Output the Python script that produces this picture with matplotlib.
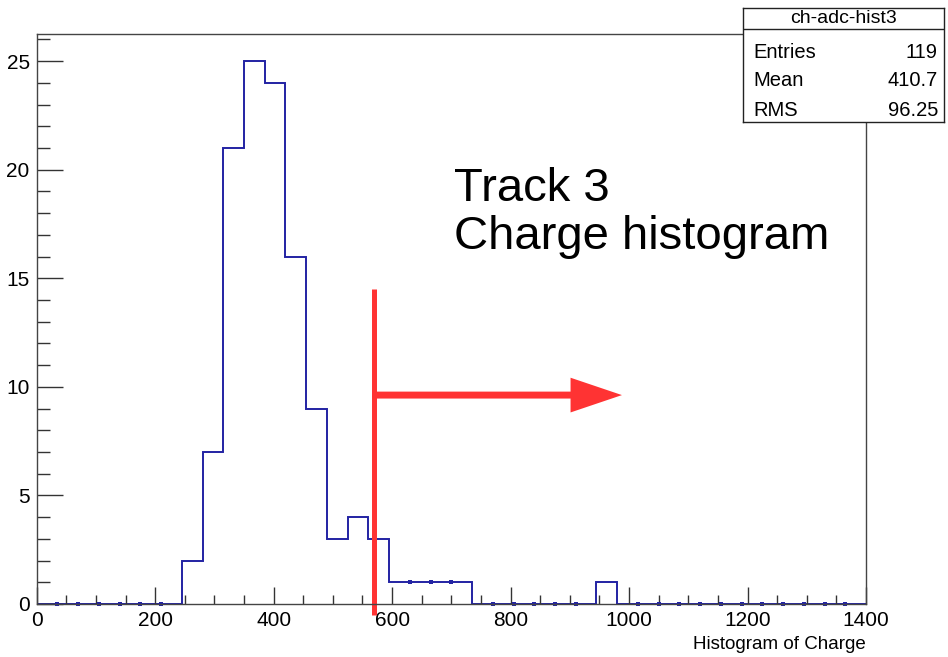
import numpy as np
import matplotlib
matplotlib.use('Agg')
import matplotlib.pyplot as plt
from matplotlib.ticker import MultipleLocator

# histogram data (40 bins of 35 from 0 to 1400)
bin_edges = np.arange(0, 1400 + 35, 35)
counts = [0, 0, 0, 0, 0, 0, 0, 2, 7, 21, 25, 24, 16, 9, 3, 4, 3, 1, 1, 1,
          1, 0, 0, 0, 0, 0, 0, 1, 0, 0, 0, 0, 0, 0, 0, 0, 0, 0, 0, 0]

stat_name = 'ch-adc-hist3'
stat_labels = ['Entries', 'Mean', 'RMS']
stat_values = ['119', '410.7', '96.25']

cut_x = 570
title_lines = ['Track 3', 'Charge histogram']

plt.rcParams['font.family'] = ['Liberation Sans', 'DejaVu Sans']

fig = plt.figure(figsize=(9.48, 6.57), dpi=100)
ax = fig.add_axes([0.0387, 0.0807, 0.8748, 0.8676])

ax.stairs(counts, bin_edges, color='#2323a3', lw=1.4)

# small markers where neighbouring bins are equal (ROOT style)
c = np.array(counts)
flat = np.where(c[:-1] == c[1:])[0] + 1
ax.plot(bin_edges[flat], c[flat], ls='none', marker='s', ms=2.2, color='#2323a3', mew=0, clip_on=False)

ax.set_xlim(0, 1400)
ax.set_ylim(0, 26.25)
ax.xaxis.set_major_locator(MultipleLocator(200))
ax.xaxis.set_minor_locator(MultipleLocator(50))
ax.yaxis.set_major_locator(MultipleLocator(5))
ax.yaxis.set_minor_locator(MultipleLocator(1))
ax.tick_params(axis='x', which='major', direction='in', length=12.2, width=1, color='#333333', labelsize=15, pad=5)
ax.tick_params(axis='x', which='minor', direction='in', length=6.5, width=1, color='#333333')
ax.tick_params(axis='y', which='major', direction='in', length=18.5, width=1, color='#333333', labelsize=15, pad=5)
ax.tick_params(axis='y', which='minor', direction='in', length=9.5, width=1, color='#333333')
for s in ax.spines.values():
    s.set_color('#444444')
    s.set_linewidth(1)

ax.text(1.0, -0.056, 'Histogram of Charge', transform=ax.transAxes, ha='right', va='top', fontsize=13.5)

# annotations
ax.plot([cut_x, cut_x], [-0.5, 14.5], color='#ff3333', lw=3.6, clip_on=False, solid_capstyle='butt')
ax.annotate('', xy=(988, 9.62), xytext=(cut_x, 9.62),
            arrowprops=dict(arrowstyle='simple,head_length=37,head_width=25,tail_width=5',
                            mutation_scale=1, color='#ff3333', shrinkA=0, shrinkB=0, lw=0))
ax.text(705, 18.0, '\n'.join(title_lines), fontsize=34, ha='left', va='center', linespacing=1.1)

# stats box
sb = fig.add_axes([0.7838, 0.8143, 0.2120, 0.1735])
sb.set_xticks([])
sb.set_yticks([])
sb.set_xlim(0, 1)
sb.set_ylim(0, 1)
for s in sb.spines.values():
    s.set_color('#222222')
    s.set_linewidth(1)
sb.axhline(0.816, color='#222222', lw=1)
sb.text(0.5, 0.905, stat_name, ha='center', va='center', fontsize=14)
rows = [0.61, 0.36, 0.105]
for lab, val, yy in zip(stat_labels, stat_values, rows):
    sb.text(0.05, yy, lab, ha='left', va='center', fontsize=14.5)
    sb.text(0.97, yy, val, ha='right', va='center', fontsize=14.5)

fig.savefig('out.png', dpi=100)
